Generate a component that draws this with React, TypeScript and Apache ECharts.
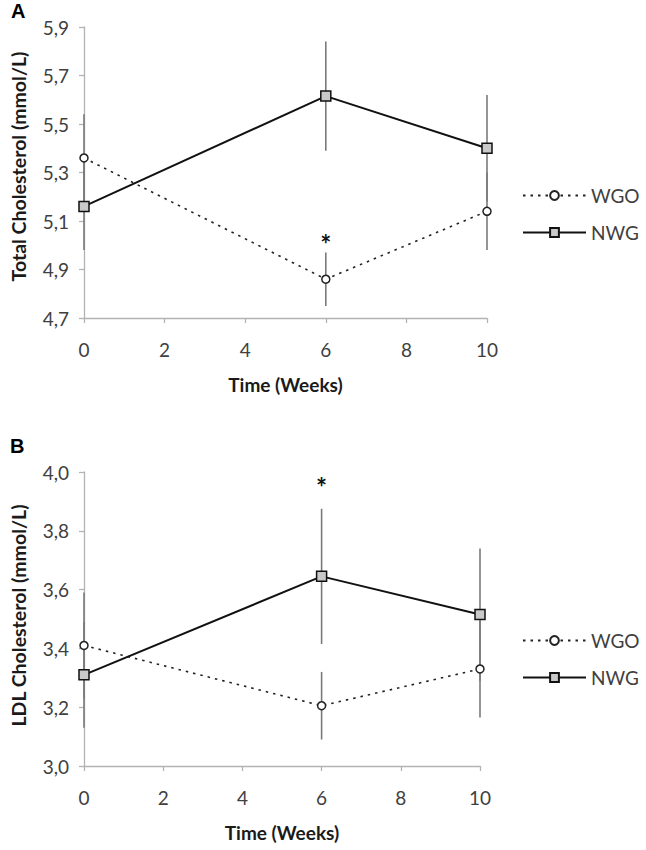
import React, { useEffect, useRef } from "react";
import * as echarts from "echarts";

// Time points (weeks)
const weeks = [0, 6, 10];

// Panel A: Total cholesterol (mmol/L)
const totalWGO = [5.36, 4.86, 5.14];
const totalWGOErr = [0.18, 0.11, 0.16];
const totalNWG = [5.16, 5.615, 5.4];
const totalNWGErr = [0.18, 0.225, 0.22];
const totalStar = [[6, 5.03]];

// Panel B: LDL cholesterol (mmol/L)
const ldlWGO = [3.41, 3.205, 3.33];
const ldlWGOErr = [0.18, 0.115, 0.165];
const ldlNWG = [3.31, 3.645, 3.515];
const ldlNWGErr = [0.18, 0.23, 0.225];
const ldlStar = [[6, 3.97]];

// Axis ranges
const xRange = { min: 0, max: 10, interval: 2 };
const yRangeA = { min: 4.7, max: 5.9, interval: 0.2 };
const yRangeB = { min: 3.0, max: 4.0, interval: 0.2 };

const seriesNames = ["WGO", "NWG"];
const panelLabels = ["A", "B"];
const yTitles = ["Total Cholesterol (mmol/L)", "LDL Cholesterol (mmol/L)"];
const xTitle = "Time (Weeks)";

const FONT = "Lato, 'Open Sans', sans-serif";

const pts = (vals: number[]) => weeks.map((w, i) => [w, vals[i]]);
const errs = (vals: number[], e: number[]) =>
  weeks.map((w, i) => [w, vals[i] - e[i], vals[i] + e[i]]);

const errRender = (params: any, api: any) => {
  const x = api.value(0);
  const p1 = api.coord([x, api.value(1)]);
  const p2 = api.coord([x, api.value(2)]);
  return {
    type: "line",
    shape: { x1: p1[0], y1: p1[1], x2: p2[0], y2: p2[1] },
    style: { stroke: "#7a7a7a", lineWidth: 1.6 },
  };
};

const starRender = (params: any, api: any) => {
  const p = api.coord([api.value(0), api.value(1)]);
  return {
    type: "text",
    x: p[0],
    y: p[1] + 6,
    style: {
      text: "*",
      fontSize: 26,
      fontWeight: "bold",
      fontFamily: FONT,
      fill: "#111",
      align: "center",
      verticalAlign: "middle",
    },
  };
};

export default function App() {
  const ref = useRef<HTMLDivElement>(null);
  useEffect(() => {
    document.body.style.margin = "0";
    if (!ref.current) return;
    const chart = echarts.init(ref.current, undefined, { renderer: "svg" });

    const xAxisBase = (gridIndex: number) => ({
      type: "value",
      gridIndex,
      min: xRange.min,
      max: xRange.max,
      interval: xRange.interval,
      name: xTitle,
      nameLocation: "middle",
      nameGap: 57,
      nameTextStyle: { fontFamily: FONT, fontSize: 19, fontWeight: "bold", color: "#1a1a1a" },
      axisLine: { lineStyle: { color: "#b3b3b3", width: 1.3 } },
      axisTick: { show: true, length: 5, lineStyle: { color: "#b3b3b3", width: 1.3 } },
      axisLabel: { fontFamily: FONT, fontSize: 19, color: "#404040", margin: 22 },
      splitLine: { show: false },
    });

    const yAxisBase = (gridIndex: number, r: any, name: string, pad: number) => ({
      type: "value",
      gridIndex,
      min: r.min,
      max: r.max,
      interval: r.interval,
      name,
      nameLocation: "middle",
      nameGap: 56,
      nameTextStyle: {
        fontFamily: FONT,
        fontSize: 19.5,
        fontWeight: "bold",
        color: "#1a1a1a",
        padding: [0, 0, 0, pad],
      },
      axisLine: { show: true, lineStyle: { color: "#b3b3b3", width: 1.3 } },
      axisTick: { show: true, length: 5, lineStyle: { color: "#b3b3b3", width: 1.3 } },
      axisLabel: {
        fontFamily: FONT,
        fontSize: 19,
        color: "#404040",
        margin: 15,
        formatter: (v: number) => v.toFixed(1).replace(".", ","),
      },
      splitLine: { show: false },
    });

    const wgoStyle = {
      type: "line",
      name: seriesNames[0],
      symbol: "circle",
      symbolSize: 8,
      z: 3,
      lineStyle: { color: "#222", width: 1.6, type: [2.5, 5] },
      itemStyle: { color: "#ffffff", borderColor: "#222", borderWidth: 1.5 },
    };
    const nwgStyle = {
      type: "line",
      name: seriesNames[1],
      symbol: "rect",
      symbolSize: 10,
      z: 4,
      lineStyle: { color: "#111", width: 2 },
      itemStyle: { color: "#c9c9c9", borderColor: "#111", borderWidth: 1.5 },
    };

    const legendBase = (top: number) => ({
      data: seriesNames,
      orient: "vertical",
      left: 517,
      top,
      itemWidth: 63,
      itemHeight: 11,
      itemGap: 18,
      textStyle: { fontFamily: FONT, fontSize: 19, color: "#404040" },
      selectedMode: false,
    });

    chart.setOption({
      animation: false,
      backgroundColor: "#ffffff",
      grid: [
        { left: 82, top: 27, width: 405, height: 291 },
        { left: 80, top: 472, width: 400, height: 294 },
      ],
      xAxis: [xAxisBase(0), xAxisBase(1)],
      yAxis: [
        yAxisBase(0, yRangeA, yTitles[0], 12),
        yAxisBase(1, yRangeB, yTitles[1], 7),
      ],
      legend: [legendBase(181), legendBase(626)],
      graphic: [
        {
          type: "text",
          left: 11,
          top: 1,
          style: { text: panelLabels[0], fontFamily: "Liberation Sans, Arial, sans-serif", fontSize: 20, fontWeight: "bold", fill: "#000" },
        },
        {
          type: "text",
          left: 10,
          top: 436,
          style: { text: panelLabels[1], fontFamily: "Liberation Sans, Arial, sans-serif", fontSize: 20, fontWeight: "bold", fill: "#000" },
        },
      ],
      series: [
        { type: "custom", name: "errA_WGO", xAxisIndex: 0, yAxisIndex: 0, z: 1, renderItem: errRender, encode: { x: 0, y: [1, 2] }, data: errs(totalWGO, totalWGOErr) },
        { type: "custom", name: "errA_NWG", xAxisIndex: 0, yAxisIndex: 0, z: 1, renderItem: errRender, encode: { x: 0, y: [1, 2] }, data: errs(totalNWG, totalNWGErr) },
        { ...wgoStyle, xAxisIndex: 0, yAxisIndex: 0, data: pts(totalWGO) },
        { ...nwgStyle, xAxisIndex: 0, yAxisIndex: 0, data: pts(totalNWG) },
        { type: "custom", name: "starA", xAxisIndex: 0, yAxisIndex: 0, renderItem: starRender, encode: { x: 0, y: 1 }, data: totalStar },

        { type: "custom", name: "errB_WGO", xAxisIndex: 1, yAxisIndex: 1, z: 1, renderItem: errRender, encode: { x: 0, y: [1, 2] }, data: errs(ldlWGO, ldlWGOErr) },
        { type: "custom", name: "errB_NWG", xAxisIndex: 1, yAxisIndex: 1, z: 1, renderItem: errRender, encode: { x: 0, y: [1, 2] }, data: errs(ldlNWG, ldlNWGErr) },
        { ...wgoStyle, xAxisIndex: 1, yAxisIndex: 1, data: pts(ldlWGO) },
        { ...nwgStyle, xAxisIndex: 1, yAxisIndex: 1, data: pts(ldlNWG) },
        { type: "custom", name: "starB", xAxisIndex: 1, yAxisIndex: 1, renderItem: starRender, encode: { x: 0, y: 1 }, data: ldlStar },
      ],
    });

    return () => chart.dispose();
  }, []);

  return <div ref={ref} style={{ width: 646, height: 850 }} />;
}
